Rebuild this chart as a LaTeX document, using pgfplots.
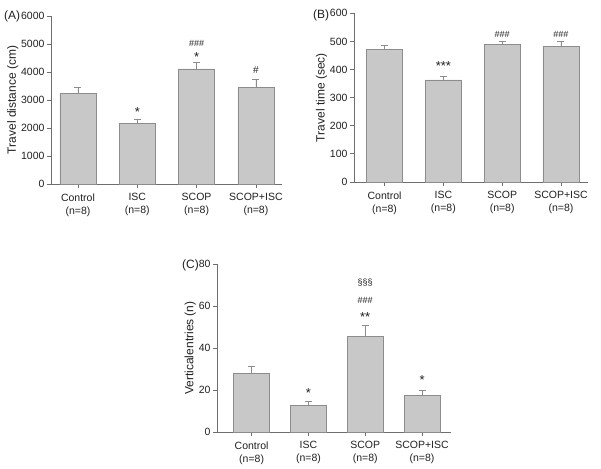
\documentclass[border=0pt]{standalone}
\usepackage{fontspec}
\setmainfont{Liberation Sans}
\usepackage{pgfplots}
\pgfplotsset{compat=1.18}
\definecolor{barfill}{HTML}{C8C8C8}
\definecolor{baredge}{HTML}{8C8C8C}
\definecolor{axgray}{HTML}{6E6E6E}
\definecolor{txt}{HTML}{202020}
\tikzset{
  star/.style={text=txt, font=\fontsize{13}{14}\selectfont},
  hash/.style={text=txt, font=\fontsize{9}{10}\selectfont},
  plab/.style={text=txt, font=\fontsize{12}{13}\selectfont, anchor=west, inner sep=0pt},
}
\pgfplotsset{
  panel/.style={
    scale only axis,
    axis lines=left,
    axis line style={axgray, line width=0.8pt, -},
    tick style={axgray, line width=0.8pt},
    tick align=outside,
    major tick length=4pt,
    ymin=0,
    xtick={0,1,2,3},
    xticklabels={{Control\\(n=8)},{ISC\\(n=8)},{SCOP\\(n=8)},{SCOP+ISC\\(n=8)}},
    x tick label style={align=center, font=\fontsize{10.5}{13}\selectfont, text=txt, yshift=-2pt},
    y tick label style={font=\fontsize{10.5}{12}\selectfont, text=txt, xshift=1pt},
    ylabel style={font=\fontsize{12}{13}\selectfont, text=txt},
    ylabel shift=-4pt,
    /pgf/number format/assume math mode=true,
    /pgf/number format/1000 sep={},
    scaled y ticks=false,
    ybar, bar width=36pt, bar shift=0pt,
    clip=false,
  },
  bars/.style={fill=barfill, draw=baredge, line width=0.6pt,
    error bars/.cd, y dir=plus, y explicit,
    error bar style={baredge, line width=0.7pt},
    error mark options={rotate=90, baredge, mark size=3.5pt, line width=0.7pt}},
}
\begin{document}
\begin{tikzpicture}[x=1pt,y=1pt]
\path (0,0) rectangle (601,468);
% Panel A
\begin{axis}[panel, at={(51pt,284pt)}, anchor=south west, width=231pt, height=168pt,
  xmin=-0.455, xmax=3.44, ymax=6000, ytick={0,1000,...,6000},
  ylabel={Travel distance (cm)}]
\addplot[bars] coordinates {(0,3230) +- (0,220) (1,2150) +- (0,170) (2,4110) +- (0,250) (3,3440) +- (0,300)};
\node[star] at (axis cs:1,2560) {*};
\node[star] at (axis cs:2,4530) {*};
\node[hash] at (axis cs:2,5025) {\#\#\#};
\node[hash, font=\fontsize{10}{11}\selectfont] at (axis cs:3,4071) {\#};
\end{axis}
\node[plab] at (4pt,452pt) {(A)};
% Panel B
\begin{axis}[panel, at={(354pt,286pt)}, anchor=south west, width=234pt, height=168.7pt,
  xmin=-0.52, xmax=3.46, ymax=600, ytick={0,100,...,600},
  ylabel={Travel time (sec)}]
\addplot[bars] coordinates {(0,473) +- (0,13) (1,363) +- (0,13) (2,490) +- (0,11) (3,481) +- (0,19)};
\node[star] at (axis cs:1,412) {***};
\node[hash] at (axis cs:2,525) {\#\#\#};
\node[hash] at (axis cs:3,525) {\#\#\#};
\end{axis}
\node[plab] at (313pt,453pt) {(B)};
% Panel C
\begin{axis}[panel, at={(217pt,36pt)}, anchor=south west, width=234pt, height=168pt,
  xmin=-0.61, xmax=3.51, ymax=80, ytick={0,20,...,80},
  ylabel={Verticalentries (n)}]
\addplot[bars] coordinates {(0,27.8) +- (0,3.6) (1,12.7) +- (0,1.9) (2,45.4) +- (0,5.2) (3,17.3) +- (0,2.4)};
\node[star] at (axis cs:1,18.6) {*};
\node[star] at (axis cs:2,54.6) {**};
\node[hash] at (axis cs:2,62.5) {\#\#\#};
\node[hash] at (axis cs:2,71) {§§§};
\node[star] at (axis cs:3,24.6) {*};
\end{axis}
\node[plab] at (182pt,203pt) {(C)};
\end{tikzpicture}
\end{document}
